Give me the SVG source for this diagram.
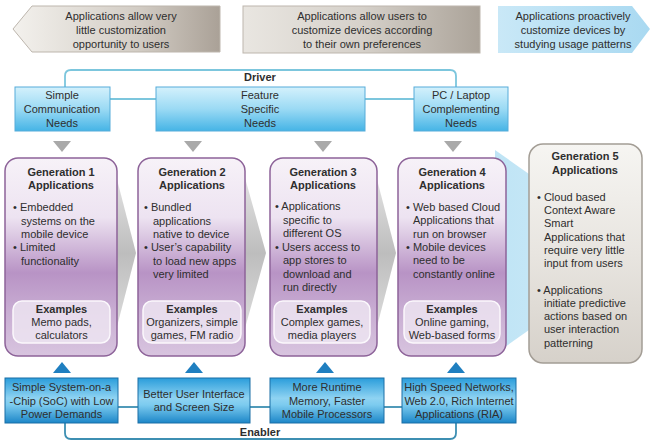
<svg xmlns="http://www.w3.org/2000/svg" width="651" height="448" viewBox="0 0 651 448">
<defs>
<linearGradient id="gBanL" x1="0" y1="0" x2="1" y2="0">
<stop offset="0" stop-color="#f3f1ed"/><stop offset="0.6" stop-color="#d3cdc5"/><stop offset="1" stop-color="#aaa197"/>
</linearGradient>
<linearGradient id="gBanM" x1="0" y1="0" x2="1" y2="0">
<stop offset="0" stop-color="#e9e6e1"/><stop offset="0.5" stop-color="#d6d1ca"/><stop offset="1" stop-color="#aba399"/>
</linearGradient>
<linearGradient id="gBanR" x1="0" y1="0" x2="1" y2="0">
<stop offset="0" stop-color="#c9e8f7"/><stop offset="1" stop-color="#a9d9f1"/>
</linearGradient>
<linearGradient id="gDrv" x1="0" y1="0" x2="0" y2="1">
<stop offset="0" stop-color="#d4f1fc"/><stop offset="0.5" stop-color="#9bdaf4"/><stop offset="1" stop-color="#45b4e6"/>
</linearGradient>
<linearGradient id="gEnb" x1="0" y1="0" x2="0" y2="1">
<stop offset="0" stop-color="#2a9ddb"/><stop offset="0.45" stop-color="#8fd3f2"/><stop offset="0.6" stop-color="#7ccbef"/><stop offset="1" stop-color="#1c86c8"/>
</linearGradient>
<linearGradient id="gGen" x1="0" y1="0" x2="0" y2="1">
<stop offset="0" stop-color="#f7f2f8"/><stop offset="0.3" stop-color="#ede3f1"/><stop offset="0.58" stop-color="#b893c5"/><stop offset="0.78" stop-color="#c9aed3"/><stop offset="1" stop-color="#d8c4df"/>
</linearGradient>
<linearGradient id="gG5" x1="0" y1="0" x2="0" y2="1">
<stop offset="0" stop-color="#f6f5f2"/><stop offset="0.5" stop-color="#e8e5e0"/><stop offset="1" stop-color="#d6d1ca"/>
</linearGradient>
<linearGradient id="gChev" x1="0" y1="0" x2="0" y2="1">
<stop offset="0" stop-color="#ececec"/><stop offset="0.5" stop-color="#bdbdbd"/><stop offset="1" stop-color="#e4e4e4"/>
</linearGradient>
<linearGradient id="gWedge" x1="0" y1="0" x2="1" y2="0">
<stop offset="0" stop-color="#bfe4f5"/><stop offset="1" stop-color="#d3edf9"/>
</linearGradient>
<style>
text{font-family:"Liberation Sans",Arial,sans-serif;font-size:11px;fill:#2e2e2e}
.c{text-anchor:middle}
.b{font-weight:bold}
.gen{fill:url(#gGen);stroke:#8d6399;stroke-width:1.5}
.ex{fill:#efe7f2;fill-opacity:0.8;stroke:#fbf8fc;stroke-width:1.5}
.drv{fill:url(#gDrv);stroke:#56acd9;stroke-width:1}
.enb{fill:url(#gEnb);stroke:#1b6fa6;stroke-width:1}
.dl{fill:none;stroke:#7cc6dd;stroke-width:1.8}
.el{fill:none;stroke:#3d8fb2;stroke-width:1.8}
.td{fill:#a9a9a9}
.tu{fill:#1f7fc0}
.chev{fill:url(#gChev)}
</style>
</defs>
<rect width="651" height="448" fill="#ffffff"/>

<g id="banner-left">
<polygon points="13,29 32,6 220,6 220,52 32,52" fill="url(#gBanL)" stroke="#bdb6ad" stroke-width="1"/>
<text class="c" x="121" y="20">Applications allow very</text>
<text class="c" x="121" y="34">little customization</text>
<text class="c" x="121" y="48">opportunity to users</text>
</g>
<g id="banner-middle">
<rect x="243" y="6" width="237" height="47" fill="url(#gBanM)" stroke="#bdb6ad" stroke-width="1"/>
<text class="c" x="362" y="20">Applications allow users to</text>
<text class="c" x="362" y="34">customize devices according</text>
<text class="c" x="362" y="48">to their own preferences</text>
</g>
<g id="banner-right">
<polygon points="498,6 632,6 650,29 632,53 498,53" fill="url(#gBanR)"/>
<text class="c" x="573" y="20">Applications proactively</text>
<text class="c" x="573" y="34">customize devices by</text>
<text class="c" x="573" y="48">studying usage patterns</text>
</g>

<g id="connectors">
<path class="dl" d="M65,87 V76 Q65,70 71,70 H450 Q456,70 456,76 V87"/>
<line class="dl" x1="110" y1="99" x2="156" y2="99"/>
<line class="dl" x1="365" y1="99" x2="414" y2="99"/>
<path class="el" d="M65,423 V433 Q65,439 71,439 H450 Q456,439 456,433 V423"/>
<line class="el" x1="118" y1="407" x2="138" y2="407"/>
<line class="el" x1="250" y1="407" x2="270" y2="407"/>
<line class="el" x1="384" y1="407" x2="402" y2="407"/>
<polygon class="td" points="53,141 71,141 62,152"/>
<polygon class="td" points="184,141 202,141 193,152"/>
<polygon class="td" points="314,141 332,141 323,152"/>
<polygon class="td" points="444,141 462,141 453,152"/>
<polygon class="tu" points="53,373 71,373 62,362"/>
<polygon class="tu" points="185,373 203,373 194,362"/>
<polygon class="tu" points="316,373 334,373 325,362"/>
<polygon class="tu" points="447,373 465,373 456,362"/>
<polygon class="chev" points="112,160 136,253 112,346"/>
<polygon class="chev" points="240,160 266,253 240,346"/>
<polygon class="chev" points="372,160 396,253 372,346"/>
<polygon points="495,150 640,252 495,354" fill="url(#gWedge)"/>
<text class="c b" x="260" y="81">Driver</text>
<text class="c b" x="260" y="436">Enabler</text>
</g>

<g id="driver-1">
<rect class="drv" x="15" y="87" width="95" height="44"/>
<text class="c" x="62" y="99">Simple</text>
<text class="c" x="62" y="113">Communication</text>
<text class="c" x="62" y="127">Needs</text>
</g>
<g id="driver-2">
<rect class="drv" x="156" y="87" width="209" height="44"/>
<text class="c" x="260" y="99">Feature</text>
<text class="c" x="260" y="113">Specific</text>
<text class="c" x="260" y="127">Needs</text>
</g>
<g id="driver-3">
<rect class="drv" x="414" y="87" width="94" height="44"/>
<text class="c" x="461" y="99">PC / Laptop</text>
<text class="c" x="461" y="113">Complementing</text>
<text class="c" x="461" y="127">Needs</text>
</g>

<g id="gen-1">
<rect class="gen" x="5" y="158" width="112" height="198" rx="13"/>
<text class="c b" x="61" y="176">Generation 1</text>
<text class="c b" x="61" y="189">Applications</text>
<text x="13" y="211">• Embedded</text>
<text x="21" y="225">systems on the</text>
<text x="21" y="238">mobile device</text>
<text x="13" y="251">• Limited</text>
<text x="21" y="265">functionality</text>
<rect class="ex" x="13" y="301" width="97" height="42" rx="9"/>
<text class="c b" x="61.5" y="313">Examples</text>
<text class="c" x="61.5" y="326">Memo pads,</text>
<text class="c" x="61.5" y="339">calculators</text>
</g>
<g id="gen-2">
<rect class="gen" x="138" y="158" width="107" height="198" rx="13"/>
<text class="c b" x="192" y="176">Generation 2</text>
<text class="c b" x="192" y="189">Applications</text>
<text x="144" y="211">• Bundled</text>
<text x="153" y="225">applications</text>
<text x="153" y="238">native to device</text>
<text x="144" y="251">• User’s capability</text>
<text x="153" y="265">to load new apps</text>
<text x="153" y="278">very limited</text>
<rect class="ex" x="143" y="301" width="98" height="42" rx="9"/>
<text class="c b" x="192" y="313">Examples</text>
<text class="c" x="192" y="326">Organizers, simple</text>
<text class="c" x="192" y="339">games, FM radio</text>
</g>
<g id="gen-3">
<rect class="gen" x="270" y="158" width="107" height="198" rx="13"/>
<text class="c b" x="323" y="176">Generation 3</text>
<text class="c b" x="323" y="189">Applications</text>
<text x="275" y="210">• Applications</text>
<text x="283" y="224">specific to</text>
<text x="283" y="237">different OS</text>
<text x="275" y="251">• Users access to</text>
<text x="283" y="264">app stores to</text>
<text x="283" y="278">download and</text>
<text x="283" y="291">run directly</text>
<rect class="ex" x="274" y="301" width="96" height="42" rx="9"/>
<text class="c b" x="322" y="313">Examples</text>
<text class="c" x="322" y="326">Complex games,</text>
<text class="c" x="322" y="339">media players</text>
</g>
<g id="gen-4">
<rect class="gen" x="398" y="158" width="108" height="198" rx="13"/>
<text class="c b" x="452" y="176">Generation 4</text>
<text class="c b" x="452" y="189">Applications</text>
<text x="406" y="211">• Web based Cloud</text>
<text x="413" y="224">Applications that</text>
<text x="413" y="238">run on browser</text>
<text x="406" y="251">• Mobile devices</text>
<text x="413" y="264">need to be</text>
<text x="413" y="278">constantly online</text>
<rect class="ex" x="404" y="301" width="96" height="42" rx="9"/>
<text class="c b" x="452" y="313">Examples</text>
<text class="c" x="452" y="326">Online gaming,</text>
<text class="c" x="452" y="339">Web-based  forms</text>
</g>
<g id="gen-5">
<rect x="529" y="144" width="113" height="219" rx="14" fill="url(#gG5)" stroke="#a39d95" stroke-width="1.5"/>
<text class="c b" x="585" y="160">Generation 5</text>
<text class="c b" x="585" y="174">Applications</text>
<text x="537" y="201">• Cloud based</text>
<text x="544" y="214">Context Aware</text>
<text x="544" y="227">Smart</text>
<text x="544" y="241">Applications that</text>
<text x="544" y="254">require very little</text>
<text x="544" y="267">input from users</text>
<text x="537" y="294">• Applications</text>
<text x="544" y="307">initiate predictive</text>
<text x="544" y="320">actions based on</text>
<text x="544" y="333">user interaction</text>
<text x="544" y="347">patterning</text>
</g>

<g id="enabler-1">
<rect class="enb" x="5" y="378" width="113" height="45"/>
<text class="c" x="61.5" y="391">Simple System-on-a</text>
<text class="c" x="61.5" y="405">-Chip  (SoC) with Low</text>
<text class="c" x="61.5" y="418">Power Demands</text>
</g>
<g id="enabler-2">
<rect class="enb" x="138" y="378" width="112" height="45"/>
<text class="c" x="194" y="398">Better User Interface</text>
<text class="c" x="194" y="411">and Screen Size</text>
</g>
<g id="enabler-3">
<rect class="enb" x="270" y="378" width="114" height="45"/>
<text class="c" x="327" y="391">More Runtime</text>
<text class="c" x="327" y="405">Memory, Faster</text>
<text class="c" x="327" y="418">Mobile Processors</text>
</g>
<g id="enabler-4">
<rect class="enb" x="402" y="378" width="114" height="45"/>
<text class="c" x="459" y="391">High Speed Networks,</text>
<text class="c" x="459" y="405">Web 2.0, Rich Internet</text>
<text class="c" x="459" y="418">Applications (RIA)</text>
</g>
</svg>
